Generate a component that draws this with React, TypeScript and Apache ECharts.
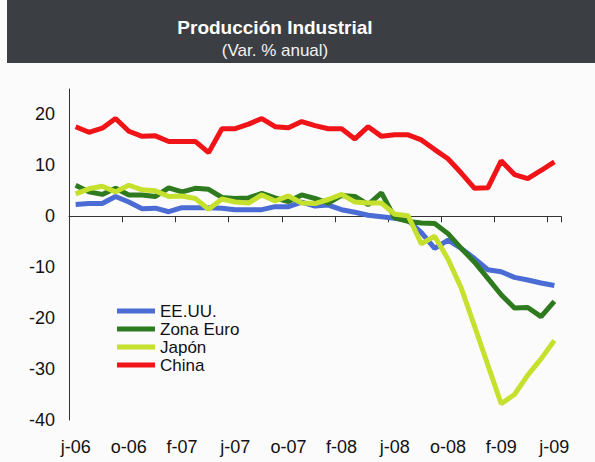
import React, { useEffect, useRef } from "react";
import * as echarts from "echarts";

const FONT = "'Liberation Sans', Arial, Helvetica, sans-serif";

const months = [
  "jun-06", "jul-06", "ago-06", "sep-06", "oct-06", "nov-06", "dic-06",
  "ene-07", "feb-07", "mar-07", "abr-07", "may-07", "jun-07", "jul-07", "ago-07", "sep-07", "oct-07", "nov-07", "dic-07",
  "ene-08", "feb-08", "mar-08", "abr-08", "may-08", "jun-08", "jul-08", "ago-08", "sep-08", "oct-08", "nov-08", "dic-08",
  "ene-09", "feb-09", "mar-09", "abr-09", "may-09", "jun-09",
];

const eeuu = [2.3, 2.5, 2.5, 3.9, 2.8, 1.5, 1.6, 0.9, 1.7, 1.7, 1.7, 1.6, 1.3, 1.3, 1.3, 1.9, 1.9, 2.8, 2.0, 2.2, 1.3, 0.8, 0.2, -0.1, -0.4, -0.8, -3.2, -6.3, -4.7, -6.3, -8.3, -10.5, -10.9, -12.0, -12.5, -13.1, -13.6];
const zonaEuro = [6.1, 4.8, 4.3, 5.5, 4.2, 4.2, 3.9, 5.6, 4.8, 5.5, 5.3, 3.7, 3.5, 3.6, 4.5, 3.6, 2.9, 4.2, 3.5, 2.6, 4.1, 3.9, 2.3, 4.6, -0.3, -1.0, -1.3, -1.4, -3.4, -6.3, -9.0, -12.2, -15.4, -18.0, -17.9, -19.7, -16.7];
const japon = [4.4, 5.4, 5.9, 4.8, 6.1, 5.2, 5.0, 3.9, 4.0, 3.5, 1.4, 3.4, 2.8, 2.6, 4.2, 3.0, 4.0, 2.6, 2.5, 3.3, 4.3, 2.8, 2.6, 2.6, 0.4, 0.1, -5.4, -3.9, -8.4, -14.1, -21.6, -29.2, -36.8, -35.0, -31.2, -28.0, -24.4];
const china = [17.6, 16.5, 17.3, 19.2, 16.7, 15.7, 15.8, 14.7, 14.7, 14.7, 12.5, 17.2, 17.2, 18.1, 19.2, 17.6, 17.4, 18.6, 17.8, 17.2, 17.2, 15.2, 17.6, 15.7, 16.0, 16.0, 15.0, 13.1, 11.3, 8.5, 5.5, 5.6, 10.9, 8.2, 7.4, 9.0, 10.7];

const seriesNames = ["EE.UU.", "Zona Euro", "Japón", "China"];
const seriesData = [eeuu, zonaEuro, japon, china];
const seriesColors = ["#4a6cd4", "#2e7a1e", "#c6e02e", "#f01418"];

const titleText = "Producción Industrial";
const subtitleText = "(Var. % anual)";

export default function App() {
  const ref = useRef<HTMLDivElement>(null);

  useEffect(() => {
    if (!ref.current) return;
    const chart = echarts.init(ref.current, null, { renderer: "svg" });
    const option: any = {
      animation: false,
      backgroundColor: "#fbfbfc",
      textStyle: { fontFamily: FONT },
      graphic: [
        {
          type: "rect",
          shape: { x: 7, y: 0, width: 588, height: 63 },
          style: { fill: "#3b3e42" },
          silent: true,
        },
        {
          type: "text",
          x: 275,
          y: 27,
          style: {
            text: titleText,
            fill: "#ffffff",
            font: `bold 19px ${FONT}`,
            textAlign: "center",
            textVerticalAlign: "middle",
          },
        },
        {
          type: "text",
          x: 275,
          y: 50,
          style: {
            text: subtitleText,
            fill: "#f2f2f2",
            font: `17px ${FONT}`,
            textAlign: "center",
            textVerticalAlign: "middle",
          },
        },
      ],
      legend: {
        orient: "vertical",
        left: 117,
        top: 302,
        padding: 0,
        itemWidth: 38,
        itemHeight: 5,
        itemGap: 0,
        icon: "rect",
        data: seriesNames,
        textStyle: { fontSize: 17, lineHeight: 18, color: "#111", fontFamily: FONT },
      },
      grid: { left: 69, right: 34, top: 89, bottom: 42, containLabel: false, outerBoundsMode: "none" },
      xAxis: [
        {
          type: "category",
          data: months,
          position: "bottom",
          boundaryGap: true,
          axisLine: { show: false, onZero: false },
          axisTick: { show: false },
          splitLine: { show: false },
          axisLabel: {
            interval: 3,
            margin: 18,
            fontSize: 18,
            color: "#111",
            fontFamily: FONT,
            formatter: (v: string) => v[0] + v.slice(3),
          },
        },
        {
          type: "category",
          data: months,
          position: "bottom",
          boundaryGap: true,
          axisLine: { show: true, onZero: true, lineStyle: { color: "#333", width: 1 } },
          axisTick: { show: true, interval: 3, length: 6, lineStyle: { color: "#333" } },
          axisLabel: { show: false },
          splitLine: { show: false },
        },
      ],
      yAxis: {
        type: "value",
        min: -40,
        max: 25,
        interval: 10,
        axisLine: { show: true, lineStyle: { color: "#333", width: 1 } },
        axisTick: { show: false },
        splitLine: { show: false },
        axisLabel: {
          fontSize: 18,
          color: "#111",
          margin: 14,
          fontFamily: FONT,
          formatter: (v: number) => (v % 10 === 0 ? String(v) : ""),
        },
      },
      series: seriesNames.map((name, i) => ({
        name,
        type: "line",
        xAxisIndex: 0,
        yAxisIndex: 0,
        data: seriesData[i],
        symbol: "none",
        showSymbol: false,
        color: seriesColors[i],
        lineStyle: { width: 5, color: seriesColors[i] },
        z: 2 + i,
      })),
    };
    chart.setOption(option);
    return () => chart.dispose();
  }, []);

  return (
    <div
      ref={ref}
      style={{ position: "absolute", left: 0, top: 0, width: 595, height: 462 }}
    />
  );
}
